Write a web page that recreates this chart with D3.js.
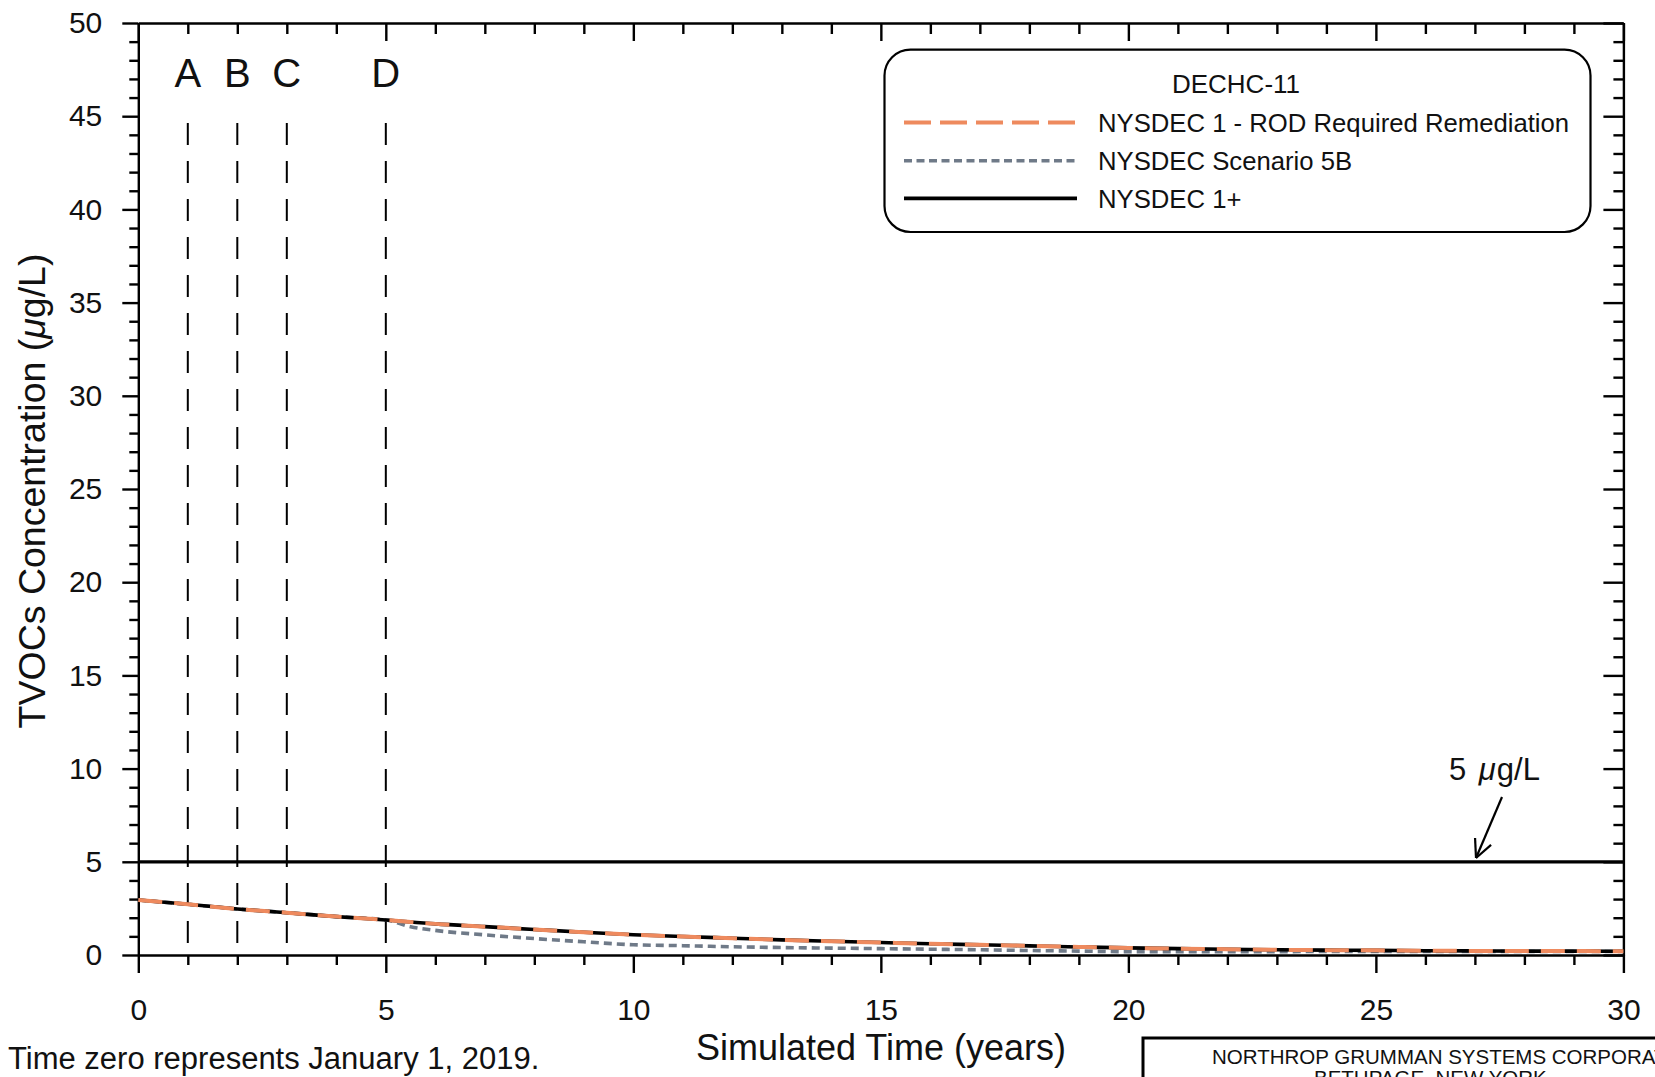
<!DOCTYPE html>
<html>
<head>
<meta charset="utf-8">
<script src="https://cdn.jsdelivr.net/npm/d3@7"></script>
<style>
  html, body { margin: 0; padding: 0; background: #ffffff; }
  svg { display: block; font-family: "Liberation Sans", Arial, Helvetica, sans-serif; }
</style>
</head>
<body>
<svg id="chart" width="1655" height="1077"></svg>
<script>
// ---------------- DATA ----------------
const years = [0,1,2,3,4,5,6,7,8,9,10,11,12,13,14,15,16,17,18,19,20,21,22,23,24,25,26,27,28,29,30];
const nysdec1 = [2.95,2.72,2.47,2.27,2.06,1.88,1.67,1.52,1.37,1.22,1.09,0.99,0.90,0.81,0.74,0.67,0.60,0.55,0.49,0.43,0.38,0.34,0.31,0.28,0.26,0.25,0.23,0.22,0.21,0.21,0.20];
const nysdec1plus = [2.95,2.72,2.47,2.27,2.06,1.88,1.67,1.52,1.37,1.22,1.09,0.99,0.90,0.81,0.74,0.67,0.60,0.55,0.49,0.43,0.38,0.34,0.31,0.28,0.26,0.25,0.23,0.22,0.21,0.21,0.20];
const years5B = [0,1,2,3,4,5,5.5,6,7,8,9,10,11,12,13,14,15,16,17,18,19,20,21,22,23,24,25,26,27,28,29,30];
const scenario5B = [2.95,2.72,2.47,2.27,2.06,1.88,1.52,1.32,1.08,0.88,0.71,0.55,0.50,0.44,0.40,0.37,0.34,0.31,0.28,0.24,0.21,0.18,0.18,0.18,0.18,0.19,0.19,0.19,0.19,0.19,0.19,0.19];
const eventLabels = ["A","B","C","D"];
const eventYears = [1,2,3,5];
const xTicks = [0,5,10,15,20,25,30];
const yTicks = [0,5,10,15,20,25,30,35,40,45,50];
const threshold = 5;
const seriesNames = ["NYSDEC 1 - ROD Required Remediation","NYSDEC Scenario 5B","NYSDEC 1+"];
const legendTitle = "DECHC-11";

// ---------------- LAYOUT ----------------
const L = 138.3, R = 1623.4, T = 23, B = 955;
const svg = d3.select("#chart");
const x = d3.scaleLinear().domain([0,30]).range([L,R]);
const y = d3.scaleLinear().domain([0,50]).range([B,T]);
const minorX = d3.range(0,31).filter(d => d % 5 !== 0);
const minorY = d3.range(0,51).filter(d => d % 5 !== 0);
const AX = 2.4;

function styleAxis(g, showDomain) {
  g.selectAll("line").attr("stroke","#000").attr("stroke-width",AX);
  if (!showDomain) g.select(".domain").remove();
  else g.select(".domain").attr("stroke","#000").attr("stroke-width",AX);
  g.selectAll("text").attr("fill","#111").attr("font-size",30)
   .attr("font-family",'"Liberation Sans", Arial, sans-serif');
}

// left
svg.append("g").attr("transform",`translate(${L},0)`)
  .call(d3.axisLeft(y).tickValues(yTicks).tickSize(16).tickPadding(20).tickSizeOuter(0))
  .call(g => styleAxis(g,true));
svg.append("g").attr("transform",`translate(${L},0)`)
  .call(d3.axisLeft(y).tickValues(minorY).tickSize(9).tickFormat(""))
  .call(g => styleAxis(g,false));
// bottom
svg.append("g").attr("transform",`translate(0,${B})`)
  .call(d3.axisBottom(x).tickValues(xTicks).tickSize(18).tickPadding(26).tickSizeOuter(0))
  .call(g => styleAxis(g,true));
svg.append("g").attr("transform",`translate(0,${B})`)
  .call(d3.axisBottom(x).tickValues(minorX).tickSize(10).tickFormat(""))
  .call(g => styleAxis(g,false));
// top (inward)
svg.append("g").attr("transform",`translate(0,${T})`)
  .call(d3.axisTop(x).tickValues(xTicks).tickSize(-18).tickFormat("").tickSizeOuter(0))
  .call(g => styleAxis(g,true));
svg.append("g").attr("transform",`translate(0,${T})`)
  .call(d3.axisTop(x).tickValues(minorX).tickSize(-11).tickFormat(""))
  .call(g => styleAxis(g,false));
// right (inward)
svg.append("g").attr("transform",`translate(${R},0)`)
  .call(d3.axisRight(y).tickValues(yTicks).tickSize(-20).tickFormat("").tickSizeOuter(0))
  .call(g => styleAxis(g,true));
svg.append("g").attr("transform",`translate(${R},0)`)
  .call(d3.axisRight(y).tickValues(minorY).tickSize(-10).tickFormat(""))
  .call(g => styleAxis(g,false));

// threshold line
svg.append("line").attr("x1",x(0)).attr("x2",x(30)).attr("y1",y(threshold)).attr("y2",y(threshold))
  .attr("stroke","#000").attr("stroke-width",3.2);

// event dashed lines + labels
eventYears.forEach((yr,i) => {
  svg.append("line").attr("x1",x(yr)).attr("x2",x(yr)).attr("y1",123).attr("y2",y(0))
    .attr("stroke","#000").attr("stroke-width",2).attr("stroke-dasharray","22,16");
  svg.append("text").attr("x",x(yr)).attr("y",87).attr("text-anchor","middle")
    .attr("font-size",40).attr("fill","#111").text(eventLabels[i]);
});

// series lines
const line = d3.line().curve(d3.curveMonotoneX);
const c5B = "#6f7a88", cOrange = "#ee8a5e";
svg.append("path").attr("d", line(years5B.map((t,i)=>[x(t),y(scenario5B[i])])))
  .attr("fill","none").attr("stroke",c5B).attr("stroke-width",3.6).attr("stroke-dasharray","8,5");
svg.append("path").attr("d", line(years.map((t,i)=>[x(t),y(nysdec1plus[i])])))
  .attr("fill","none").attr("stroke","#000").attr("stroke-width",3.6);
svg.append("path").attr("d", line(years.map((t,i)=>[x(t),y(nysdec1[i])])))
  .attr("fill","none").attr("stroke",cOrange).attr("stroke-width",4).attr("stroke-dasharray","24,12");

// 5 ug/L annotation
const ann = svg.append("text").attr("x",1449).attr("y",780).attr("font-size",31).attr("fill","#111");
ann.append("tspan").text("5 ");
ann.append("tspan").attr("dx",4).attr("font-style","italic").text("\u03bc");
ann.append("tspan").attr("dx",1).text("g/L");
const tip = [1476, 858], tail = [1502, 797];
svg.append("line").attr("x1",tail[0]).attr("y1",tail[1]).attr("x2",tip[0]).attr("y2",tip[1])
  .attr("stroke","#000").attr("stroke-width",2.2);
{
  const dx = tail[0]-tip[0], dy = tail[1]-tip[1], len = Math.hypot(dx,dy);
  const ux = dx/len, uy = dy/len;
  [0.45,-0.45].forEach(a => {
    const rx = ux*Math.cos(a) - uy*Math.sin(a), ry = ux*Math.sin(a) + uy*Math.cos(a);
    svg.append("line").attr("x1",tip[0]).attr("y1",tip[1])
      .attr("x2",tip[0]+rx*20).attr("y2",tip[1]+ry*20)
      .attr("stroke","#000").attr("stroke-width",2.2);
  });
}

// legend
const lg = svg.append("g");
lg.append("rect").attr("x",884.5).attr("y",49.6).attr("width",706).attr("height",182.4)
  .attr("rx",26).attr("ry",26).attr("fill","#fff").attr("stroke","#000").attr("stroke-width",2.2);
lg.append("text").attr("x",1236).attr("y",93).attr("text-anchor","middle").attr("font-size",26)
  .attr("fill","#111").text(legendTitle);
const legY = [122.4, 160.8, 198.4];
const legStyles = [
  {stroke:cOrange, w:4, dash:"27,9"},
  {stroke:c5B, w:3.4, dash:"8,4.5"},
  {stroke:"#000", w:3.6, dash:null}
];
seriesNames.forEach((name,i) => {
  const s = legStyles[i];
  const ln = lg.append("line").attr("x1",904).attr("x2",1077).attr("y1",legY[i]).attr("y2",legY[i])
    .attr("stroke",s.stroke).attr("stroke-width",s.w);
  if (s.dash) ln.attr("stroke-dasharray",s.dash);
  lg.append("text").attr("x",1098).attr("y",legY[i]+9.3).attr("font-size",25.7).attr("fill","#111").text(name);
});

// axis titles
const yt = svg.append("text").attr("transform","translate(45,491) rotate(-90)")
  .attr("text-anchor","middle").attr("font-size",37.5).attr("fill","#111");
yt.append("tspan").text("TVOCs Concentration (");
yt.append("tspan").attr("font-style","italic").text("\u03bc");
yt.append("tspan").text("g/L)");
svg.append("text").attr("x",881).attr("y",1060).attr("text-anchor","middle").attr("font-size",36)
  .attr("fill","#111").text("Simulated Time (years)");
svg.append("text").attr("x",8).attr("y",1069).attr("font-size",31).attr("fill","#111")
  .text("Time zero represents January 1, 2019.");

// title block (cut off at page edge, as in the reference)
svg.append("rect").attr("x",1143).attr("y",1038).attr("width",600).attr("height",100)
  .attr("fill","none").attr("stroke","#000").attr("stroke-width",3);
svg.append("text").attr("x",1212).attr("y",1064).attr("font-size",20.5).attr("fill","#111")
  .text("NORTHROP GRUMMAN SYSTEMS CORPORATION");
svg.append("text").attr("x",1314).attr("y",1085).attr("font-size",20.5).attr("fill","#111")
  .text("BETHPAGE, NEW YORK");
</script>
</body>
</html>
